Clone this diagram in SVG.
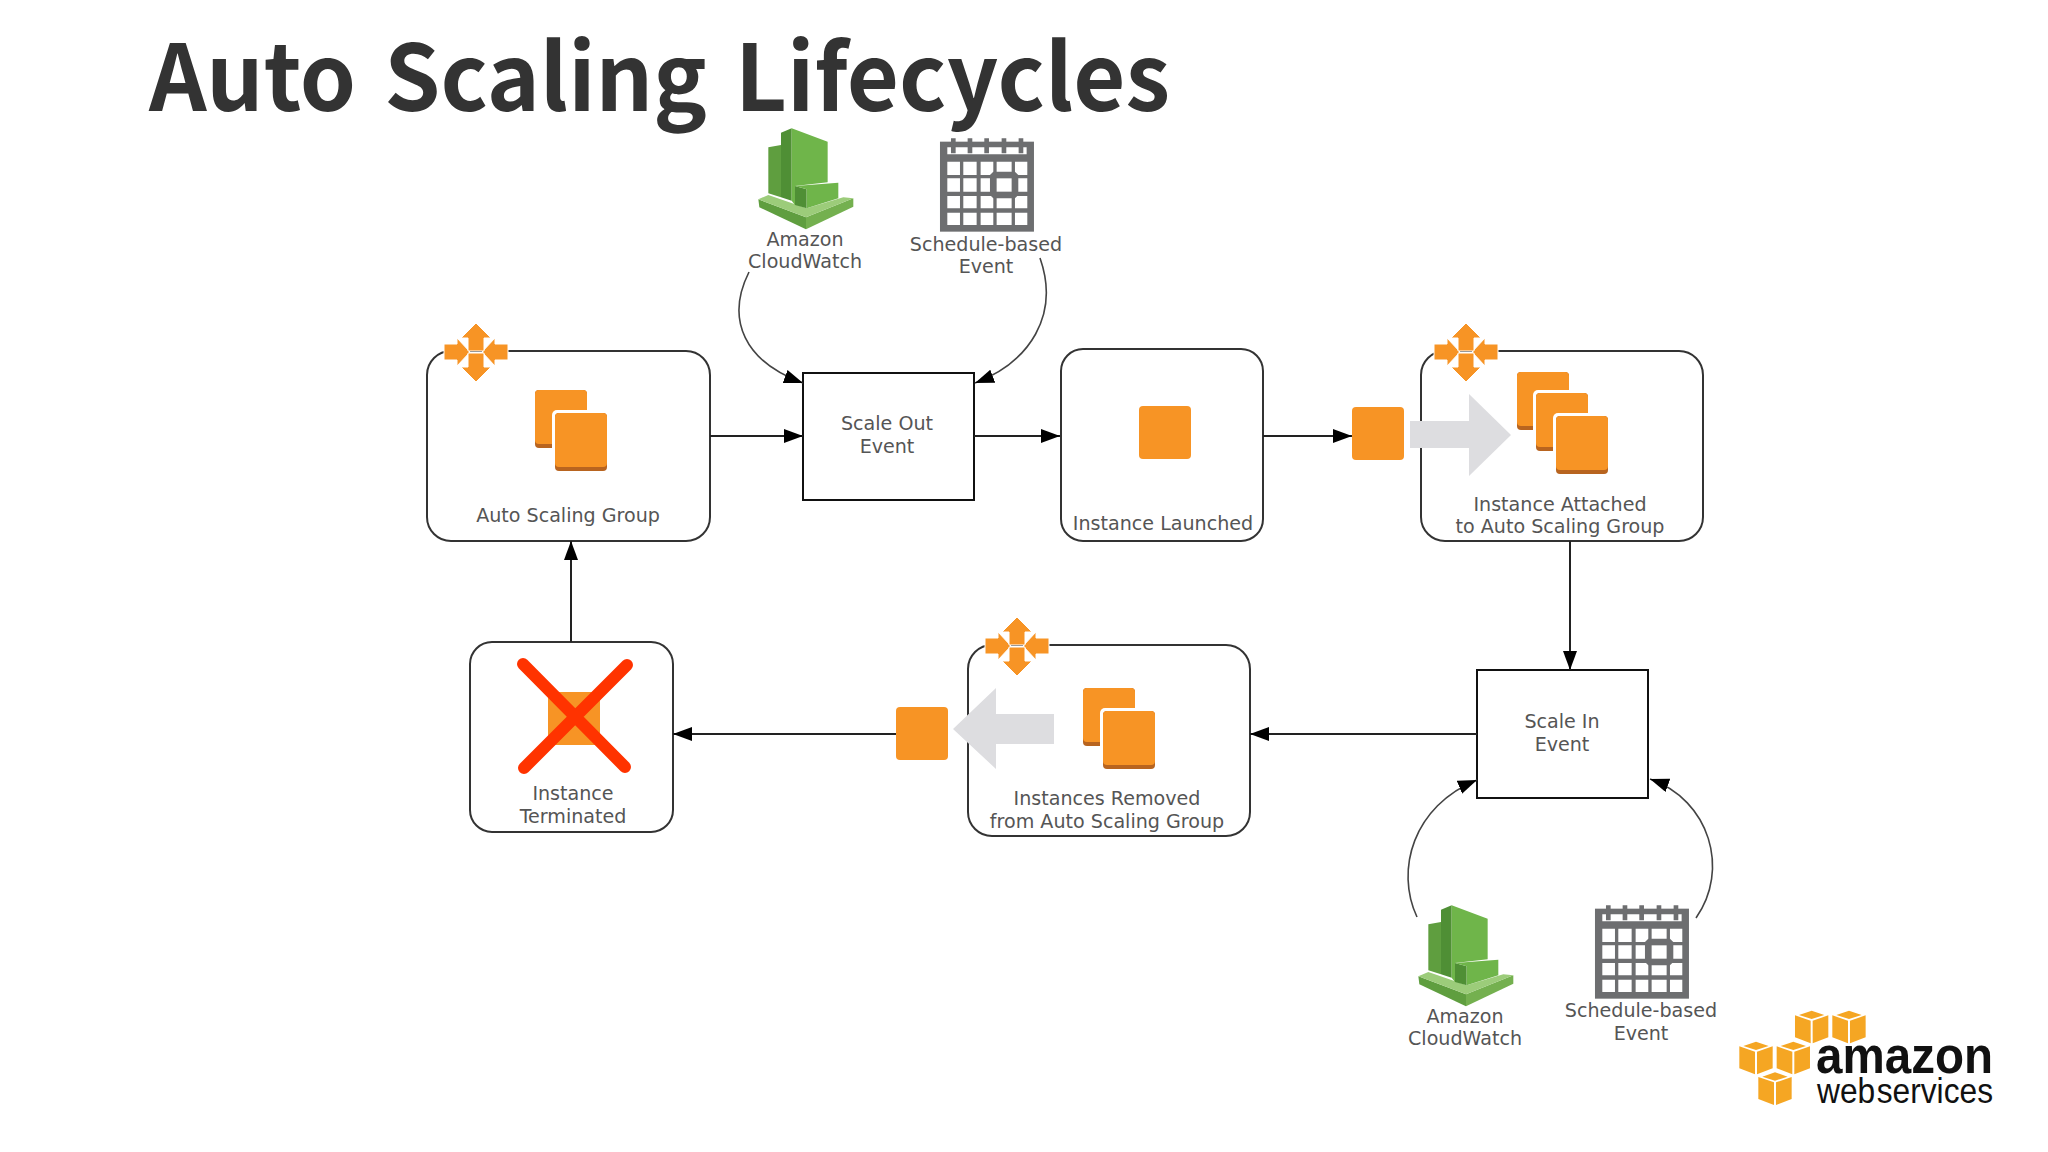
<svg xmlns="http://www.w3.org/2000/svg" width="2048" height="1152" viewBox="0 0 2048 1152">
<style>
.box{fill:#fff;stroke:#333;stroke-width:2}
.lbl{font-family:"DejaVu Sans",Verdana,sans-serif;font-size:19.1px;fill:#555;text-anchor:middle}
.c{fill:none;stroke:#222;stroke-width:2}
.cv{fill:none;stroke:#444;stroke-width:1.6}
.o{fill:#f79425}
.od{fill:#b8641f}
.aw{fill:#f5a623}
</style>
<defs>
<marker id="ah" markerUnits="userSpaceOnUse" markerWidth="20" markerHeight="16" refX="19" refY="7" orient="auto"><path d="M0 0L19 7L0 14Z" fill="#000"/></marker>
<g id="inst"><rect width="52" height="58" rx="4" class="od"/><rect width="52" height="54" rx="4" class="o"/></g>
<g id="cube"><rect width="52" height="53" rx="4" class="o"/></g>
<g id="move">
<path d="M-32-8H-19V-14L-6 0L-19 14V8H-32Z M32-8H19V-14L6 0L19 14V8H32Z" fill="#f79425" stroke="#fff" stroke-width="1" stroke-linejoin="round"/>
<path d="M0-29L15-14H8V-1H-8V-14H-15Z M0 30L15 15H8V1H-8V15H-15Z" fill="#f79425" stroke="#fff" stroke-width="1" stroke-linejoin="round"/>
</g>
<g id="cw" transform="translate(700 110) scale(.3333)">
<path d="M175 268L318 322V358L178 292Z" fill="#5f9e3f"/>
<path d="M318 322L460 265V290L318 358Z" fill="#74b04f"/>
<path d="M175 268L205 255L320 295L430 262L460 265L318 322Z" fill="#9ccc7a"/>
<path d="M205 112L243 105V262L205 250Z" fill="#5f9e3f"/>
<path d="M243 68L275 55V272L243 262Z" fill="#4f8f35"/>
<path d="M275 55L383 95V217L285 228V285L275 272Z" fill="#6fb54a"/>
<path d="M285 228L320 238V295L285 285Z" fill="#4f8f35"/>
<path d="M285 228L415 218V265L320 295V238Z" fill="#6fb54a"/>
</g>
<g id="cal" transform="translate(700 110) scale(.3333)">
<rect x="720" y="95" width="282" height="270" fill="#6d6e70"/>
<path d="M742 112H980V133H742Z" fill="#fff"/>
<path d="M742 155h38v40h-38zM790 155h40v40h-40zM842 155h38v40h-38zM890 155h45v40h-45zM945 155h37v40h-37zM742 205h38v40h-38zM790 205h40v40h-40zM842 205h38v40h-38zM945 205h37v40h-37zM742 258h38v37h-38zM790 258h40v37h-40zM842 258h38v37h-38zM890 258h45v37h-45zM945 258h37v37h-37zM742 308h38v37h-38zM790 308h40v37h-40zM842 308h38v37h-38zM890 308h45v37h-45zM945 308h37v37h-37z" fill="#fff"/>
<path d="M753 85h14v45h-14zM803 85h14v45h-14zM853 85h14v45h-14zM905 85h14v45h-14zM956 85h14v45h-14z" fill="#6d6e70"/>
<path d="M880 185H945L955 195V255L945 265H880L870 255V195Z" fill="#6d6e70"/>
<rect x="890" y="205" width="45" height="40" fill="#fff"/>
</g>
<g id="awc"><path d="M0 0L38 13L0 25L-38 13Z" class="aw"/><path d="M-50 14L-3 30V98L-50 80Z" class="aw"/><path d="M50 14L3 30V98L50 80Z" class="aw"/></g>
</defs>
<rect width="2048" height="1152" fill="#fff"/>
<text id="title" x="149" y="111" font-family="'Noto Sans CJK KR','Noto Sans',sans-serif" font-weight="700" font-size="92" fill="#333" word-spacing="8" textLength="1021" lengthAdjust="spacingAndGlyphs">Auto Scaling Lifecycles</text>

<g id="asg">
<rect class="box" x="427" y="351" width="283" height="190" rx="24"/>
<use href="#inst" x="535" y="390"/><rect x="552" y="410" width="58" height="62" rx="5" fill="#fff"/><use href="#inst" x="555" y="413"/>
<use href="#move" x="476" y="352"/>
<text class="lbl" x="568" y="522">Auto Scaling Group</text>
</g>
<g id="scaleout">
<rect x="803" y="373" width="171" height="127" fill="#fff" stroke="#111" stroke-width="2"/>
<text class="lbl" x="887" y="430">Scale Out</text><text class="lbl" x="887" y="453">Event</text>
</g>
<g id="launched">
<rect class="box" x="1061" y="349" width="202" height="192" rx="22"/>
<use href="#cube" x="1139" y="406"/>
<text class="lbl" x="1163" y="530">Instance Launched</text>
</g>
<g id="attached">
<rect class="box" x="1421" y="351" width="282" height="190" rx="24"/>
<path d="M1410 421H1469V394L1511 435L1469 476V448H1410Z" fill="#dddde0"/>
<use href="#inst" x="1517" y="372"/><rect x="1533" y="390" width="58" height="64" rx="5" fill="#fff"/><use href="#inst" x="1536" y="393"/><rect x="1553" y="413" width="58" height="64" rx="5" fill="#fff"/><use href="#inst" x="1556" y="416"/>
<use href="#move" x="1466" y="352"/>
<text class="lbl" x="1560" y="511">Instance Attached</text><text class="lbl" x="1560" y="533">to Auto Scaling Group</text>
</g>
<g id="scalein">
<rect x="1477" y="670" width="171" height="128" fill="#fff" stroke="#111" stroke-width="2"/>
<text class="lbl" x="1562" y="728">Scale In</text><text class="lbl" x="1562" y="751">Event</text>
</g>
<g id="removed">
<rect class="box" x="968" y="645" width="282" height="191" rx="24"/>
<path d="M1054 714H996V688L953 729L996 769V744H1054Z" fill="#dddde0"/>
<use href="#inst" x="1083" y="688"/><rect x="1100" y="708" width="58" height="62" rx="5" fill="#fff"/><use href="#inst" x="1103" y="711"/>
<use href="#move" x="1017" y="646"/>
<text class="lbl" x="1107" y="805">Instances Removed</text><text class="lbl" x="1107" y="828">from Auto Scaling Group</text>
</g>
<g id="terminated">
<rect class="box" x="470" y="642" width="203" height="190" rx="22"/>
<use href="#cube" x="548" y="692"/>
<path d="M523 664L625 767M627 665L524 768" stroke="#ff3300" stroke-width="12" stroke-linecap="round" fill="none"/>
<text class="lbl" x="573" y="800">Instance</text><text class="lbl" x="573" y="823">Terminated</text>
</g>
<g id="cube-out"><use href="#cube" x="1352" y="407"/></g>
<g id="cube-in"><use href="#cube" x="896" y="707"/></g>

<g id="connectors">
<path class="c" marker-end="url(#ah)" d="M710 436H803"/>
<path class="c" marker-end="url(#ah)" d="M974 436H1060"/>
<path class="c" marker-end="url(#ah)" d="M1263 436H1352"/>
<path class="c" marker-end="url(#ah)" d="M1570 541V670"/>
<path class="c" marker-end="url(#ah)" d="M1477 734H1250"/>
<path class="c" marker-end="url(#ah)" d="M896 734H673"/>
<path class="c" marker-end="url(#ah)" d="M571 642V541"/>
<path class="cv" marker-end="url(#ah)" d="M749 272C725 320 745 362 803 383"/>
<path class="cv" marker-end="url(#ah)" d="M1040 258C1060 315 1030 362 975 383"/>
<path class="cv" marker-end="url(#ah)" d="M1417 917C1395 870 1413 806 1477 780"/>
<path class="cv" marker-end="url(#ah)" d="M1696 918C1730 870 1710 800 1650 779"/>
</g>

<g id="cloudwatch1"><use href="#cw"/><text class="lbl" x="805" y="246">Amazon</text><text class="lbl" x="805" y="268">CloudWatch</text></g>
<g id="schedule1"><use href="#cal"/><text class="lbl" x="986" y="251">Schedule-based</text><text class="lbl" x="986" y="273">Event</text></g>
<g id="cloudwatch2"><use href="#cw" x="660" y="777"/><text class="lbl" x="1465" y="1023">Amazon</text><text class="lbl" x="1465" y="1045">CloudWatch</text></g>
<g id="schedule2"><use href="#cal" x="655" y="767"/><text class="lbl" x="1641" y="1017">Schedule-based</text><text class="lbl" x="1641" y="1040">Event</text></g>

<g id="aws-logo">
<g transform="translate(1720 990) scale(.3333)">
<use href="#awc" x="275" y="62"/><use href="#awc" x="387" y="62"/><use href="#awc" x="108" y="155"/><use href="#awc" x="220" y="155"/><use href="#awc" x="165" y="247"/>
</g>
<text x="1816" y="1073" font-family="'Liberation Sans',Arial,sans-serif" font-weight="700" font-size="52" textLength="177" lengthAdjust="spacingAndGlyphs" fill="#111">amazon</text>
<text x="1817" y="1103" font-family="'Liberation Sans',Arial,sans-serif" font-size="35" textLength="176" lengthAdjust="spacingAndGlyphs" word-spacing="-8" fill="#111">web services</text>
</g>
</svg>
